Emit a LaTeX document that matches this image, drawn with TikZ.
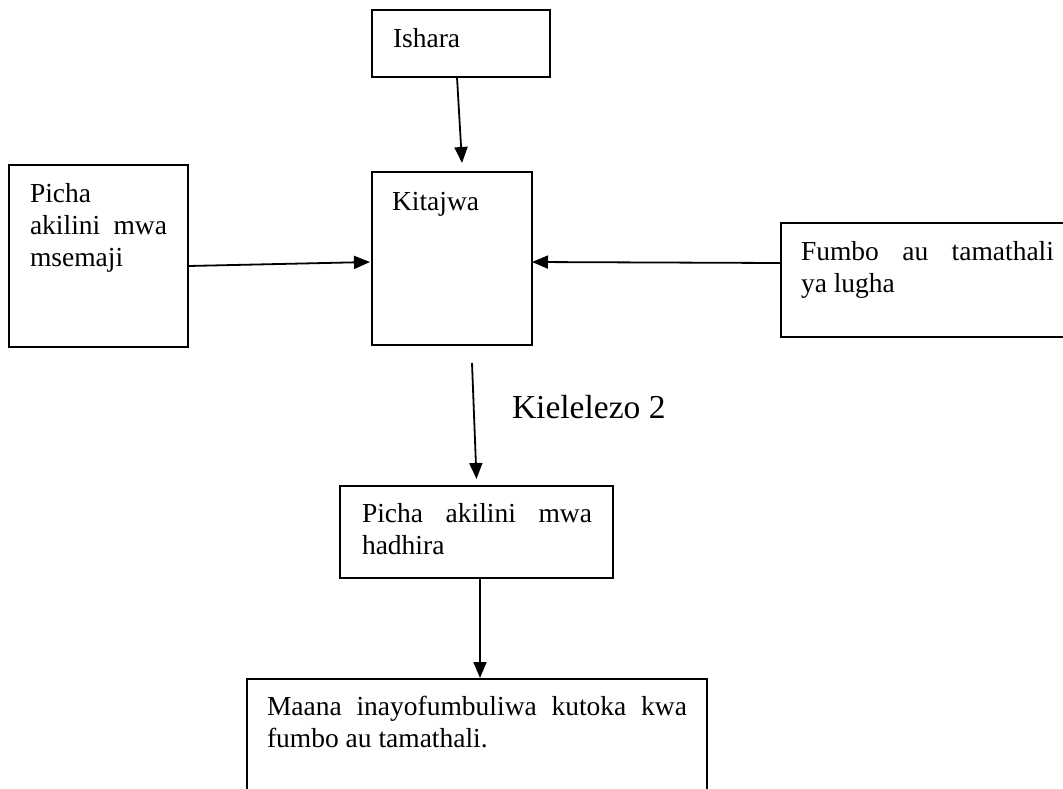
\documentclass[tikz,border=0pt]{standalone}
\usepackage{fontspec}
\setmainfont{Liberation Serif}
\usetikzlibrary{arrows.meta}
\tikzset{
  box/.style={draw, line width=1.8pt, inner sep=0pt, outer sep=0pt, anchor=north west},
  txt/.style={inner sep=0pt, outer sep=0pt, anchor=base west, font=\fontsize{27.5}{32}\selectfont},
  arr/.style={line width=1.8pt, -{Triangle[length=16pt,width=13pt]}}
}
\begin{document}
\begin{tikzpicture}[x=1pt,y=-1pt]
\useasboundingbox (0,0) rectangle (1063,788);
\clip (0,0) rectangle (1063,788);
% boxes
\node[box, minimum width=178pt, minimum height=67pt] (ishara) at (372,10) {};
\node[box, minimum width=179pt, minimum height=182pt] (picha) at (9,165) {};
\node[box, minimum width=160pt, minimum height=173pt] (kitajwa) at (372,172) {};
\node[box, minimum width=294pt, minimum height=114pt] (fumbo) at (781,223) {};
\node[box, minimum width=273pt, minimum height=92pt] (hadhira) at (340,486) {};
\node[box, minimum width=460pt, minimum height=130pt] (maana) at (247,679) {};
% texts
\node[txt] (ishara-t) at (393,47) {Ishara};
\node[txt] (picha-t) at (30,202) {\parbox[t]{137pt}{Picha\\\makebox[137pt][s]{akilini mwa}\\msemaji}};
\node[txt] (kitajwa-t) at (392,210) {Kitajwa};
\node[txt] (fumbo-t) at (801,260) {\parbox[t]{253pt}{\makebox[253pt][s]{Fumbo au tamathali}\\ya lugha}};
\node[txt] (hadhira-t) at (362,522) {\parbox[t]{230pt}{\makebox[230pt][s]{Picha akilini mwa}\\hadhira}};
\node[txt] (maana-t) at (267,715) {\parbox[t]{420pt}{\makebox[420pt][s]{Maana inayofumbuliwa kutoka kwa}\\fumbo au tamathali.}};
\node[inner sep=0pt, outer sep=0pt, anchor=base west, font=\fontsize{33.5}{40}\selectfont] (kiel) at (512,418) {Kielelezo 2};
% connectors
\draw[arr] ([xshift=-4pt]ishara.south) -- ([xshift=10pt,yshift=9pt]kitajwa.north);
\draw[arr] ([yshift=-10pt]picha.east) -- ([xshift=-2pt,yshift=-3.5pt]kitajwa.west);
\draw[arr] ([yshift=17pt]fumbo.west) -- ([yshift=-3.5pt]kitajwa.east);
\draw[arr] ([xshift=20pt,yshift=-18pt]kitajwa.south) -- ([yshift=7pt]hadhira.north);
\draw[arr] ([xshift=3.5pt]hadhira.south) -- ([xshift=3pt,yshift=1pt]maana.north);
\end{tikzpicture}
\end{document}
